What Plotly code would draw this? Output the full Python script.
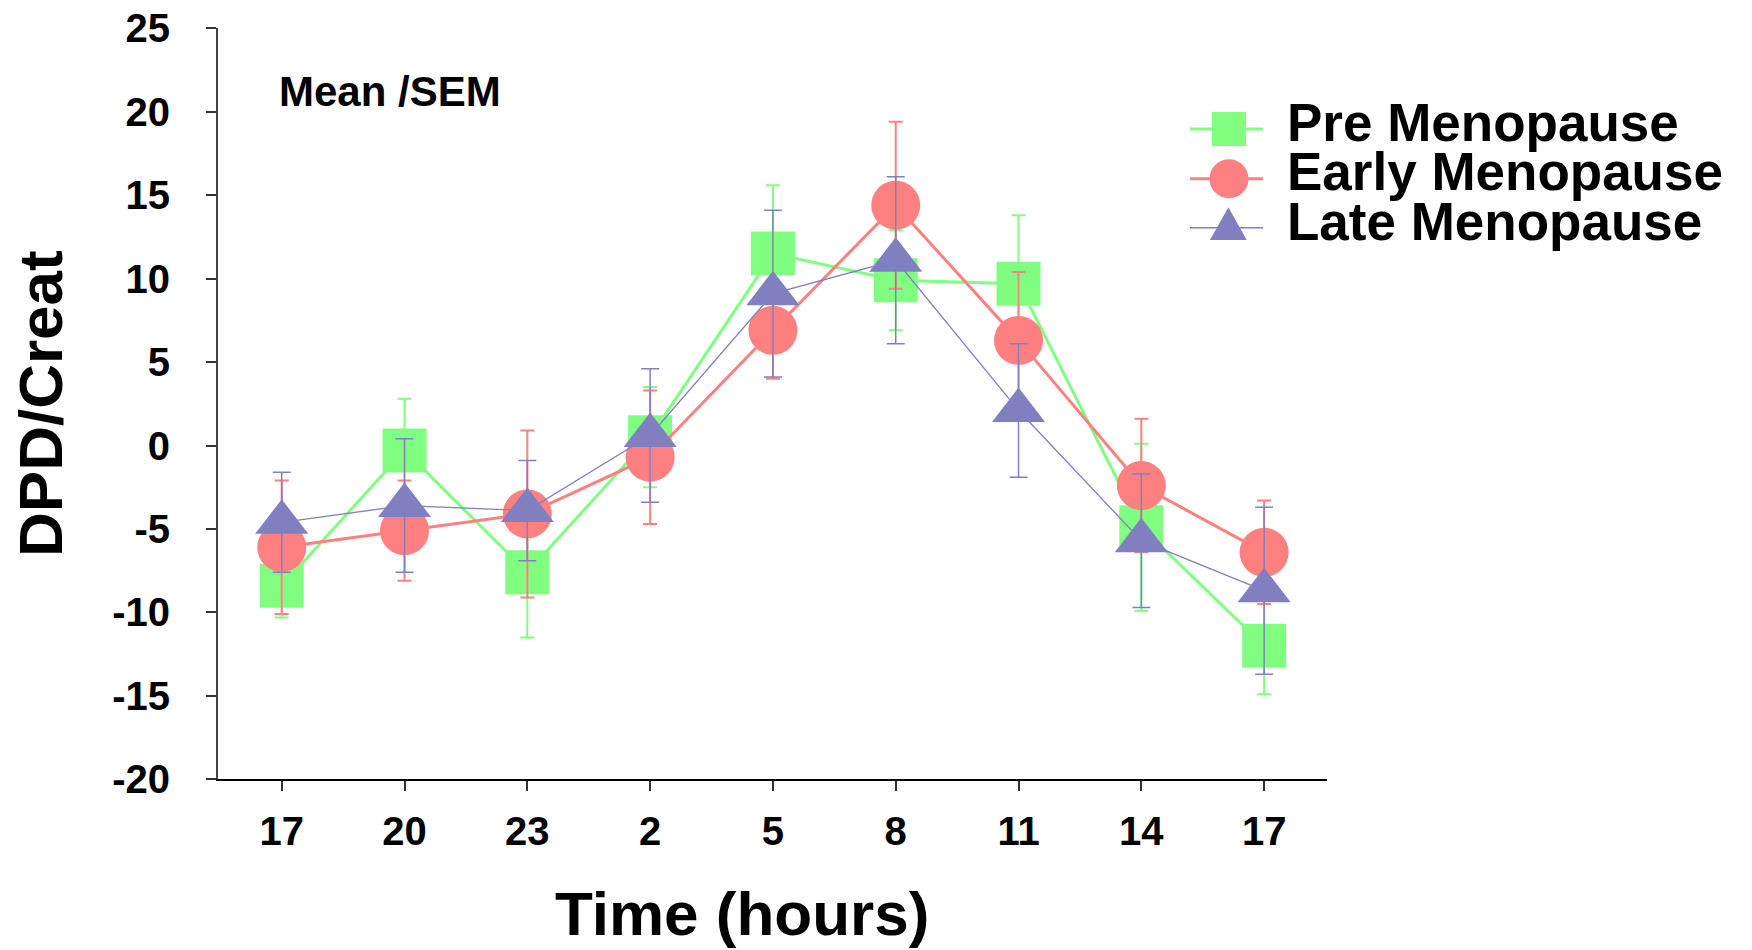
import plotly.graph_objects as go

# ---------------- data ----------------
time_labels = ["17", "20", "23", "2", "5", "8", "11", "14", "17"]

pre_mean = [-8.4, -0.3, -7.6, 0.5, 11.5, 9.9, 9.7, -4.9, -12.0]
pre_sem = [1.9, 3.1, 3.9, 3.0, 4.1, 3.0, 4.1, 5.0, 2.9]

early_mean = [-6.1, -5.1, -4.1, -0.7, 6.9, 14.4, 6.3, -2.4, -6.4]
early_sem = [4.0, 3.0, 5.0, 4.0, 2.9, 5.0, 4.1, 4.0, 3.1]

late_mean = [-4.6, -3.6, -3.9, 0.6, 9.1, 11.1, 2.1, -5.7, -8.7]
late_sem = [3.0, 4.0, 3.0, 4.0, 5.0, 5.0, 4.0, 4.0, 5.0]

series_names = ["Pre Menopause", "Early Menopause", "Late Menopause"]
y_ticks = [25, 20, 15, 10, 5, 0, -5, -10, -15, -20]

# ---------------- styling / layout ----------------
OFF = 8                      # default page body margin
W, H = 1752 - 2 * OFF, 950 - OFF
FONT = "Liberation Sans, Arial, Helvetica, sans-serif"
GREEN = "#80FF80"
RED = "#FF8080"
BLUE = "#8080C0"


def px(x):
    return (x - OFF) / W


def py(y):
    return 1 - (y - OFF) / H


x_idx = list(range(len(time_labels)))

fig = go.Figure()

styles = [
    (pre_mean, pre_sem, GREEN, "square", 44, 3, 2, 7),
    (early_mean, early_sem, RED, "circle", 49, 3, 2, 7),
    (late_mean, late_sem, BLUE, "triangle-up", 46, 1.3, 1.5, 9),
]
for name, (m, e, col, sym, size, lw, ew, cw) in zip(series_names, styles):
    fig.add_trace(go.Scatter(
        x=x_idx, y=m, name=name, mode="lines+markers",
        line=dict(color=col, width=lw),
        marker=dict(symbol=sym, size=size, color=col, line=dict(width=0)),
        error_y=dict(type="data", array=e, visible=True, color=col,
                     thickness=ew, width=cw),
        showlegend=False, cliponaxis=False,
    ))

fig.update_layout(
    width=W, height=H,
    margin=dict(l=0, r=0, t=0, b=0),
    template="none",
    plot_bgcolor="white", paper_bgcolor="white",
    font=dict(family=FONT, color="black"),
    showlegend=False,
    xaxis=dict(
        domain=[px(218), px(1327)],
        range=[-0.519, 8.512],
        tickmode="array", tickvals=x_idx, ticktext=time_labels,
        showline=True, linecolor="black", linewidth=2,
        ticks="outside", ticklen=10, tickwidth=1.5, tickcolor="#333",
        showgrid=False, zeroline=False, automargin=False,
        tickfont=dict(size=40, family=FONT, weight="bold", color="black"),
        ticklabelstandoff=6, ticklabeloverflow="allow",
    ),
    yaxis=dict(
        domain=[py(779.3), py(28.3)],
        range=[-20, 25],
        tickmode="array", tickvals=y_ticks, ticktext=[str(v) for v in y_ticks],
        showline=True, linecolor="#444", linewidth=2,
        ticks="outside", ticklen=10, tickwidth=1.5, tickcolor="#333",
        showgrid=False, zeroline=False, automargin=False,
        tickfont=dict(size=40, family=FONT, weight="bold", color="black"),
        ticklabelstandoff=28, ticklabeloverflow="allow",
    ),
)

annotations = [
    dict(text="DPD/Creat", x=px(40), y=py(404), textangle=-90,
         font=dict(size=62, weight="bold")),
    dict(text="Time (hours)", x=px(741.5), y=py(913),
         font=dict(size=62, weight="bold")),
    dict(text="Mean /SEM", x=px(389.5), y=py(92),
         font=dict(size=42, weight="bold")),
]
legend_text_y = [123, 172, 222]
for name, ty in zip(series_names, legend_text_y):
    annotations.append(dict(text=name, x=px(1285), y=py(ty), xanchor="left",
                            font=dict(size=53, weight="bold")))
for a in annotations:
    a.setdefault("xanchor", "center")
    a.update(xref="paper", yref="paper", yanchor="middle", showarrow=False)
    a["font"]["family"] = FONT
    a["font"]["color"] = "black"
fig.update_layout(annotations=annotations)

# legend swatches (layout shapes)
shapes = []
leg_line_y = [129, 178.7, 227.7]
leg_cols = [GREEN, RED, BLUE]
leg_lw = [3, 3, 1.5]
for ly, c, lw in zip(leg_line_y, leg_cols, leg_lw):
    shapes.append(dict(type="line", x0=px(1190), x1=px(1263), y0=py(ly), y1=py(ly),
                       line=dict(color=c, width=lw)))
shapes.append(dict(type="rect", x0=px(1229 - 17), x1=px(1229 + 17),
                   y0=py(129 - 17), y1=py(129 + 17),
                   fillcolor=GREEN, line=dict(width=0)))
shapes.append(dict(type="circle", x0=px(1229 - 19.5), x1=px(1229 + 19.5),
                   y0=py(178.7 - 19.5), y1=py(178.7 + 19.5),
                   fillcolor=RED, line=dict(width=0)))
tri = "M {} {} L {} {} L {} {} Z".format(px(1210), py(240), px(1246.7), py(240),
                                         px(1228.4), py(207.3))
shapes.append(dict(type="path", path=tri, fillcolor=BLUE, line=dict(width=0)))
for s in shapes:
    s.update(xref="paper", yref="paper", layer="above")
fig.update_layout(shapes=shapes)

fig.write_html("out.html")
